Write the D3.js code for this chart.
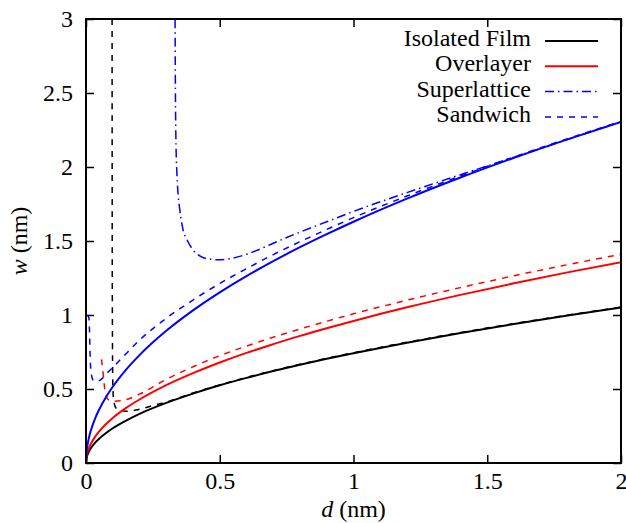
<!DOCTYPE html>
<html>
<head>
<meta charset="utf-8">
<script src="https://cdn.jsdelivr.net/npm/d3@7"></script>
<style>
  html, body { margin: 0; padding: 0; background: #fff; }
  svg { display: block; }
</style>
</head>
<body>
<svg id="chart" width="626" height="523"></svg>
<script>
// Width w (nm) versus thickness d (nm) for several geometries.
const xTicks = [0, 0.5, 1, 1.5, 2];
const xTickLabels = ["0", "0.5", "1", "1.5", "2"];
const yTicks = [0, 0.5, 1, 1.5, 2, 2.5, 3];
const yTickLabels = ["0", "0.5", "1", "1.5", "2", "2.5", "3"];

const isolatedFilm = [[0,0],[0.002,0.033],[0.005,0.052],[0.01,0.074],[0.02,0.105],[0.035,0.139],[0.05,0.166],[0.075,0.203],[0.1,0.235],[0.15,0.287],[0.2,0.332],[0.3,0.406],[0.4,0.469],[0.5,0.525],[0.6,0.575],[0.7,0.621],[0.8,0.664],[0.9,0.704],[1.0,0.742],[1.2,0.813],[1.4,0.878],[1.6,0.939],[1.8,0.996],[2.0,1.05]];
const isolatedDashed = [[0.0975,3.0],[0.098,1.5],[0.099,0.8],[0.1,0.55],[0.102,0.45],[0.106,0.4],[0.112,0.372],[0.125,0.356],[0.15,0.35],[0.2,0.363],[0.25,0.388],[0.3,0.412],[0.4,0.473],[0.5,0.528],[0.6,0.578],[0.7,0.624],[0.8,0.667],[0.9,0.707],[1.0,0.745],[1.2,0.816],[1.4,0.881],[1.6,0.942],[1.8,0.999],[2.0,1.053]];
const overlayer = [[0,0],[0.002,0.043],[0.005,0.068],[0.01,0.096],[0.02,0.136],[0.035,0.18],[0.05,0.215],[0.075,0.263],[0.1,0.304],[0.15,0.372],[0.2,0.429],[0.3,0.526],[0.4,0.607],[0.5,0.679],[0.6,0.744],[0.7,0.803],[0.8,0.859],[0.9,0.911],[1.0,0.96],[1.2,1.052],[1.4,1.136],[1.6,1.214],[1.8,1.288],[2.0,1.357]];
const overlayerDashed = [[0.058,0.7],[0.062,0.64],[0.066,0.57],[0.07,0.5],[0.076,0.45],[0.085,0.425],[0.1,0.417],[0.13,0.42],[0.2,0.465],[0.3,0.565],[0.4,0.65],[0.5,0.725],[0.6,0.79],[0.7,0.85],[0.8,0.905],[0.9,0.958],[1.0,1.008],[1.2,1.1],[1.4,1.185],[1.6,1.265],[1.8,1.34],[2.0,1.41]];
const bulk = [[0,0],[0.002,0.073],[0.005,0.115],[0.01,0.163],[0.02,0.23],[0.035,0.305],[0.05,0.364],[0.075,0.446],[0.1,0.515],[0.15,0.631],[0.2,0.729],[0.3,0.893],[0.4,1.031],[0.5,1.153],[0.6,1.263],[0.7,1.364],[0.8,1.458],[0.9,1.546],[1.0,1.63],[1.2,1.786],[1.4,1.929],[1.6,2.062],[1.8,2.187],[2.0,2.305]];
const superlattice = [[0.333,3.0],[0.334,2.6],[0.336,2.2],[0.34,1.95],[0.345,1.8],[0.35,1.72],[0.36,1.6],[0.38,1.5],[0.4,1.44],[0.43,1.395],[0.46,1.378],[0.5,1.373],[0.55,1.385],[0.6,1.41],[0.65,1.445],[0.7,1.485],[0.8,1.56],[0.9,1.63],[1.0,1.7],[1.1,1.765],[1.2,1.827],[1.3,1.888],[1.4,1.948],[1.5,2.007],[1.6,2.066],[1.8,2.186],[2.0,2.305]];
const sandwich = [[0.006,1.0],[0.011,0.98],[0.013,0.9],[0.015,0.75],[0.018,0.63],[0.025,0.565],[0.04,0.55],[0.06,0.57],[0.08,0.61],[0.1,0.645],[0.14,0.72],[0.2,0.83],[0.3,0.978],[0.4,1.101],[0.5,1.213],[0.6,1.313],[0.7,1.408],[0.8,1.495],[0.9,1.578],[1.0,1.658],[1.2,1.804],[1.4,1.939],[1.6,2.068],[1.8,2.191],[2.0,2.308]];

const legendNames = ["Isolated Film", "Overlayer", "Superlattice", "Sandwich"];

const FONT = "Liberation Serif";
const FONT_SIZE = 24;

const svg = d3.select("#chart").attr("font-family", FONT);
const plotLeft = 86, plotRight = 621, plotTop = 19, plotBottom = 463;

const x = d3.scaleLinear().domain([0, 2]).range([plotLeft, plotRight]);
const y = d3.scaleLinear().domain([0, 3]).range([plotBottom, plotTop]);

svg.append("defs").append("clipPath").attr("id", "plotClip")
  .append("rect").attr("x", plotLeft).attr("y", plotTop)
  .attr("width", plotRight - plotLeft).attr("height", plotBottom - plotTop);

// Curves
const line = d3.line().x(d => x(d[0])).y(d => y(d[1])).curve(d3.curveMonotoneX);
const curves = [
  { data: isolatedFilm,    color: "#000000", dash: null,        width: 2 },
  { data: isolatedDashed,  color: "#000000", dash: "6,6",       width: 1.5 },
  { data: overlayer,       color: "#ff0000", dash: null,        width: 2 },
  { data: overlayerDashed, color: "#ff0000", dash: "6,6",       width: 1.5 },
  { data: bulk,            color: "#0000ff", dash: null,        width: 2 },
  { data: superlattice,    color: "#0000ff", dash: "9,4,1.5,4", width: 1.5 },
  { data: sandwich,        color: "#0000ff", dash: "6,6",       width: 1.5 }
];
const plot = svg.append("g").attr("clip-path", "url(#plotClip)");
plot.selectAll("path.curve").data(curves).join("path")
  .attr("class", "curve")
  .attr("d", c => line(c.data))
  .attr("fill", "none")
  .attr("stroke", c => c.color)
  .attr("stroke-width", c => c.width)
  .attr("stroke-dasharray", c => c.dash);

// Axes with inward ticks on all four sides
function styleAxis(g, showLabels) {
  g.attr("font-family", FONT).attr("font-size", FONT_SIZE);
  g.select(".domain").remove();
  g.selectAll(".tick line").attr("stroke", "#000").attr("stroke-width", 1.5);
  g.selectAll(".tick text").attr("fill", "#000")
    .attr("font-family", FONT).attr("font-size", FONT_SIZE);
  if (!showLabels) g.selectAll(".tick text").remove();
}
svg.append("g").attr("transform", `translate(0,${plotBottom})`)
  .call(d3.axisBottom(x).tickValues(xTicks).tickFormat((d, i) => xTickLabels[i]).tickSizeInner(-8).tickPadding(9))
  .call(g => styleAxis(g, true));
svg.append("g").attr("transform", `translate(0,${plotTop})`)
  .call(d3.axisTop(x).tickValues(xTicks).tickSizeInner(-8))
  .call(g => styleAxis(g, false));
svg.append("g").attr("transform", `translate(${plotLeft},0)`)
  .call(d3.axisLeft(y).tickValues(yTicks).tickFormat((d, i) => yTickLabels[i]).tickSizeInner(-8).tickPadding(13))
  .call(g => styleAxis(g, true));
svg.append("g").attr("transform", `translate(${plotRight},0)`)
  .call(d3.axisRight(y).tickValues(yTicks).tickSizeInner(-8))
  .call(g => styleAxis(g, false));

// Frame
svg.append("rect").attr("x", plotLeft).attr("y", plotTop)
  .attr("width", plotRight - plotLeft).attr("height", plotBottom - plotTop)
  .attr("fill", "none").attr("stroke", "#000").attr("stroke-width", 2);

// Axis titles
const xTitle = svg.append("text").attr("x", (plotLeft + plotRight) / 2).attr("y", 517)
  .attr("text-anchor", "middle").attr("font-family", FONT).attr("font-size", FONT_SIZE);
xTitle.append("tspan").attr("font-style", "italic").text("d");
xTitle.append("tspan").text(" (nm)");

const yTitle = svg.append("text")
  .attr("transform", `translate(27,${(plotTop + plotBottom) / 2}) rotate(-90)`)
  .attr("text-anchor", "middle").attr("font-family", FONT).attr("font-size", FONT_SIZE);
yTitle.append("tspan").attr("font-style", "italic").text("w");
yTitle.append("tspan").text(" (nm)");

// Legend
const legendStyles = [curves[0], curves[2], curves[5], curves[6]];
const legend = svg.append("g");
legendNames.forEach((name, i) => {
  const ly = 41 + i * 25.3;
  legend.append("text").attr("x", 531).attr("y", ly + 5)
    .attr("text-anchor", "end").attr("font-family", FONT).attr("font-size", FONT_SIZE).text(name);
  legend.append("line").attr("x1", 545).attr("x2", 598).attr("y1", ly).attr("y2", ly)
    .attr("stroke", legendStyles[i].color)
    .attr("stroke-width", legendStyles[i].width)
    .attr("stroke-dasharray", legendStyles[i].dash);
});
</script>
</body>
</html>
